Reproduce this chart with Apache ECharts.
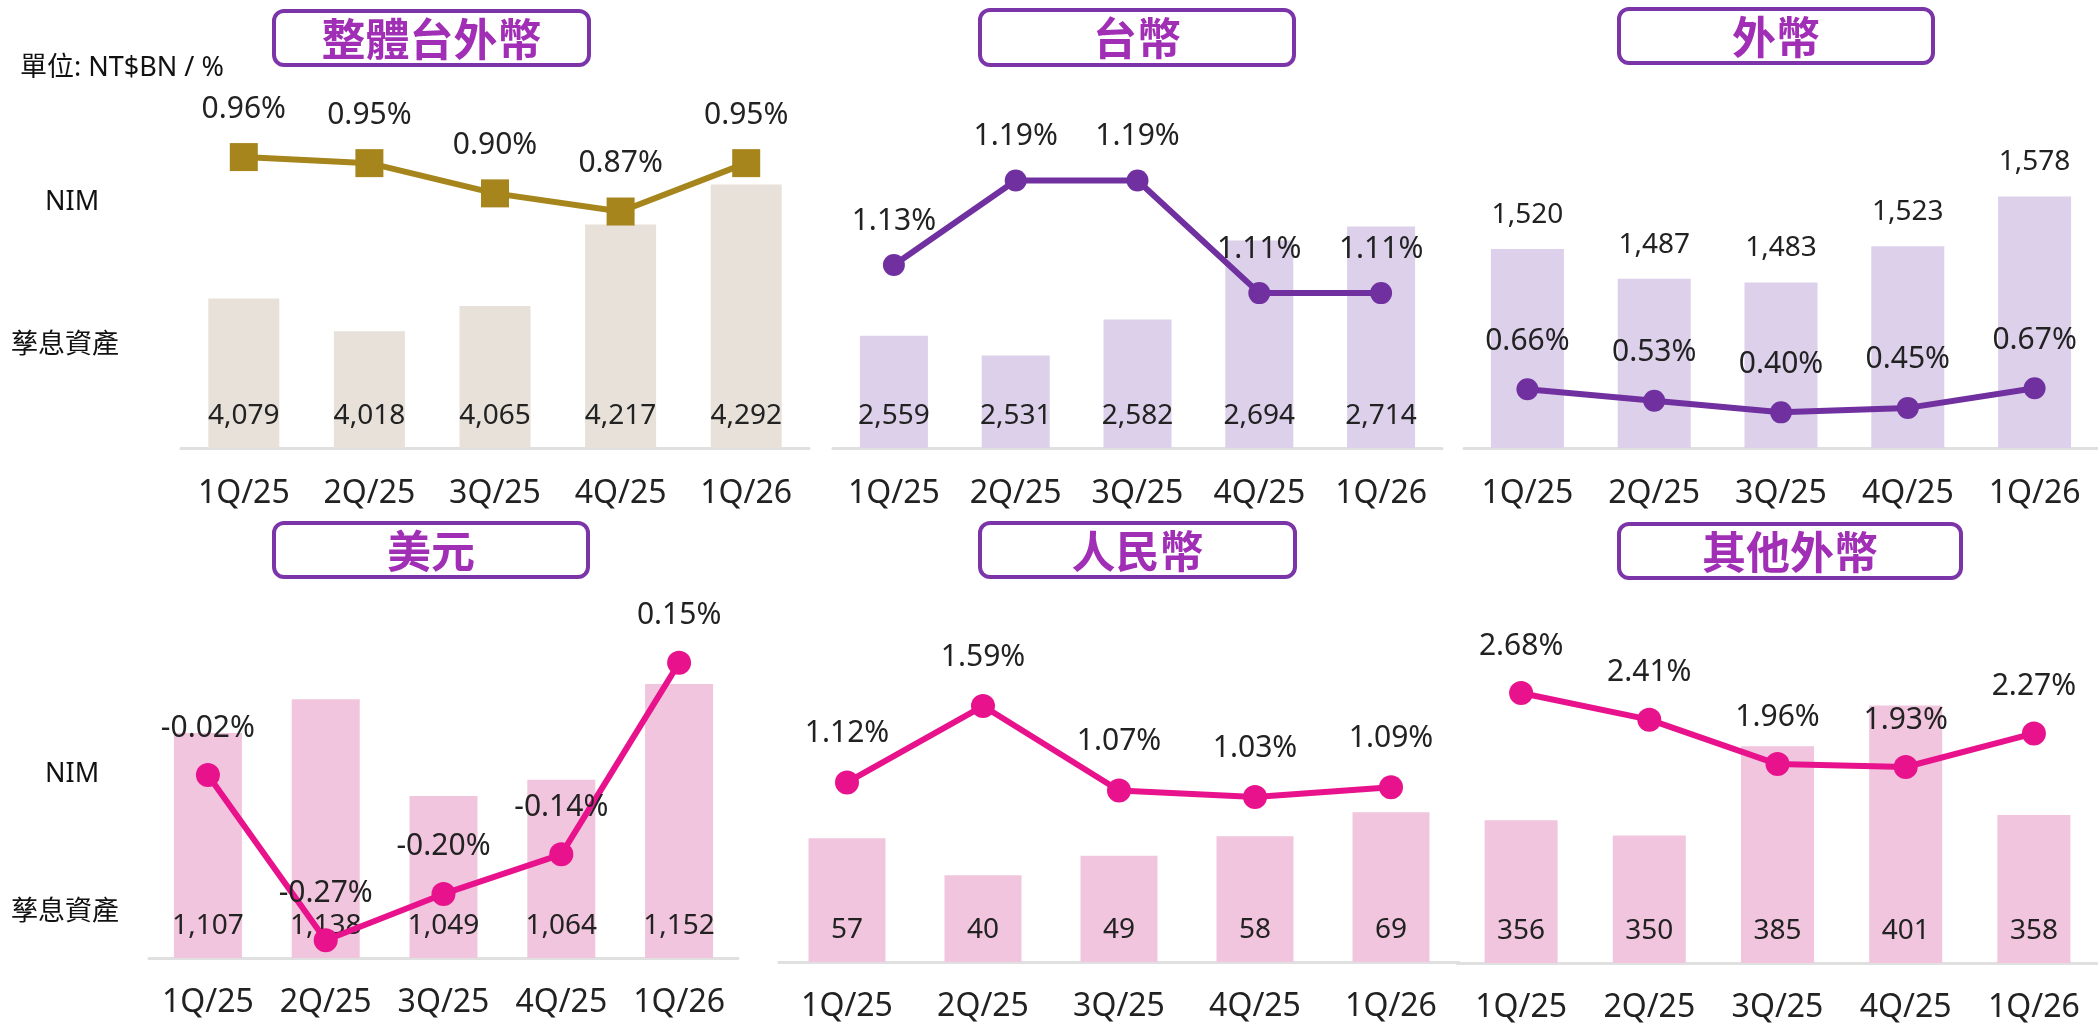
<!DOCTYPE html>
<html lang="zh-Hant">
<head>
<meta charset="UTF-8">
<title>NIM</title>
<style>
  html, body { margin: 0; padding: 0; background: #fff; }
  #main { width: 2098px; height: 1025px; }
</style>
</head>
<body>
<div id="main"></div>
<script src="https://cdn.jsdelivr.net/npm/echarts@6/dist/echarts.min.js"></script>
<script>
// 資料
var categories = ['1Q/25', '2Q/25', '3Q/25', '4Q/25', '1Q/26'];
var titles = ['整體台外幣', '台幣', '外幣', '美元', '人民幣', '其他外幣'];

var assetTotal = [4079, 4018, 4065, 4217, 4292];
var nimTotal = [0.96, 0.95, 0.90, 0.87, 0.95];
var assetTwd = [2559, 2531, 2582, 2694, 2714];
var nimTwd = [1.13, 1.19, 1.19, 1.11, 1.11];
var assetFx = [1520, 1487, 1483, 1523, 1578];
var nimFx = [0.66, 0.53, 0.40, 0.45, 0.67];
var assetUsd = [1107, 1138, 1049, 1064, 1152];
var nimUsd = [-0.02, -0.27, -0.20, -0.14, 0.15];
var assetCny = [57, 40, 49, 58, 69];
var nimCny = [1.12, 1.59, 1.07, 1.03, 1.09];
var assetOther = [356, 350, 385, 401, 358];
var nimOther = [2.68, 2.41, 1.96, 1.93, 2.27];

var FONT = '"Noto Sans", "Noto Sans CJK TC", sans-serif';
var GOLD = '#a6851c', PURPLE = '#7030a0', PINK = '#e8128c';

// 版面 (每個小圖)
var panels = [
    { asset: assetTotal, nim: nimTotal, grid: [181, 96, 628, 352], barRange: [3800, 4457], lineRange: [0.479, 1.061],
      barW: 71, barColor: '#e7e1da', lineColor: GOLD, symbol: 'rect', symbolSize: 28, lineDist: 19, top: false, box: [274, 11, 315, 54] },
    { asset: assetTwd, nim: nimTwd, grid: [833, 96, 609, 352], barRange: [2400, 2899], lineRange: [1.00, 1.25],
      barW: 68, barColor: '#dcd0ea', lineColor: PURPLE, symbol: 'circle', symbolSize: 22, lineDist: 18, top: false, box: [980, 10, 314, 55] },
    { asset: assetFx, nim: nimFx, grid: [1464, 96, 644, 352], barRange: [1300, 1689], lineRange: [0, 3.95],
      barW: 73, barColor: '#dcd0ea', lineColor: PURPLE, symbol: 'circle', symbolSize: 22, lineDist: 22, top: true, box: [1619, 9, 314, 54] },
    { asset: assetUsd, nim: nimUsd, grid: [149, 610, 589, 348], barRange: [900, 1220], lineRange: [-0.297, 0.230],
      barW: 68, barColor: '#f0c5dd', lineColor: PINK, symbol: 'circle', symbolSize: 24, lineDist: 20, top: false, box: [274, 523, 314, 54] },
    { asset: assetCny, nim: nimCny, grid: [779, 610, 680, 352], barRange: [0, 162.2], lineRange: [0.015, 2.181],
      barW: 77, barColor: '#f0c5dd', lineColor: PINK, symbol: 'circle', symbolSize: 24, lineDist: 22, top: false, box: [980, 523, 315, 54] },
    { asset: assetOther, nim: nimOther, grid: [1457, 610, 651, 353], barRange: [300, 438.4], lineRange: [-0.056, 3.521],
      barW: 73, barColor: '#f0c5dd', lineColor: PINK, symbol: 'circle', symbolSize: 24, lineDist: 20, top: false, box: [1619, 524, 342, 54] }
];

var grid = [], xAxis = [], yAxis = [], series = [], graphic = [];

panels.forEach(function (p, i) {
    grid.push({ left: p.grid[0], top: p.grid[1], width: p.grid[2], height: p.grid[3], containLabel: false });
    xAxis.push({
        type: 'category', gridIndex: i, data: categories,
        axisLine: { onZero: false, lineStyle: { color: '#e0e0e0', width: 3 } },
        axisTick: { show: false },
        axisLabel: { interval: 0, fontSize: 32, color: '#222', fontFamily: FONT, margin: i < 3 ? 30 : 29 }
    });
    yAxis.push({ type: 'value', gridIndex: i, min: p.barRange[0], max: p.barRange[1], show: false, splitLine: { show: false } });
    yAxis.push({ type: 'value', gridIndex: i, min: p.lineRange[0], max: p.lineRange[1], show: false, splitLine: { show: false } });

    series.push({
        type: 'bar', xAxisIndex: i, yAxisIndex: i * 2, data: p.asset, barWidth: p.barW,
        itemStyle: { color: p.barColor },
        label: {
            show: true, position: p.top ? 'top' : 'insideBottom', distance: p.top ? 20 : 18,
            fontSize: 28, color: '#222', fontFamily: FONT,
            formatter: function (d) { return d.value.toLocaleString('en-US'); }
        },
        z: 2
    });
    series.push({
        type: 'line', xAxisIndex: i, yAxisIndex: i * 2 + 1, data: p.nim,
        symbol: p.symbol, symbolSize: p.symbolSize, clip: false,
        lineStyle: { color: p.lineColor, width: 6 },
        itemStyle: { color: p.lineColor },
        label: {
            show: true, position: 'top', distance: p.lineDist,
            fontSize: 30, color: '#222', fontFamily: FONT,
            formatter: function (d) { return d.value.toFixed(2) + '%'; }
        },
        z: 3
    });

    // 標題框
    graphic.push({
        type: 'rect', shape: { x: p.box[0], y: p.box[1], width: p.box[2], height: p.box[3], r: 10 },
        style: { fill: '#fff', stroke: '#7b35a8', lineWidth: 4 }, z: 10
    });
    graphic.push({
        type: 'text', x: p.box[0] + p.box[2] / 2, y: p.box[1] + p.box[3] / 2 + 1,
        style: {
            text: titles[i], fill: '#a12fb6', font: 'bold 44px "Noto Sans CJK TC"',
            textAlign: 'center', textVerticalAlign: 'middle', align: 'center', verticalAlign: 'middle'
        }, z: 11
    });
});

// 左側說明文字
var sideTexts = [
    ['單位: NT$BN / %', 20, 68],
    ['NIM', 45, 202],
    ['孳息資產', 11, 345],
    ['NIM', 45, 774],
    ['孳息資產', 11, 912]
];
sideTexts.forEach(function (t) {
    graphic.push({
        type: 'text', x: t[1], y: t[2],
        style: {
            text: t[0], fill: '#111', font: '27px ' + FONT,
            textAlign: 'left', textVerticalAlign: 'middle', align: 'left', verticalAlign: 'middle'
        }
    });
});

var myChart = echarts.init(document.getElementById('main'));
myChart.setOption({
    animation: false,
    textStyle: { fontFamily: FONT },
    grid: grid,
    xAxis: xAxis,
    yAxis: yAxis,
    series: series,
    graphic: graphic
});
</script>
</body>
</html>
